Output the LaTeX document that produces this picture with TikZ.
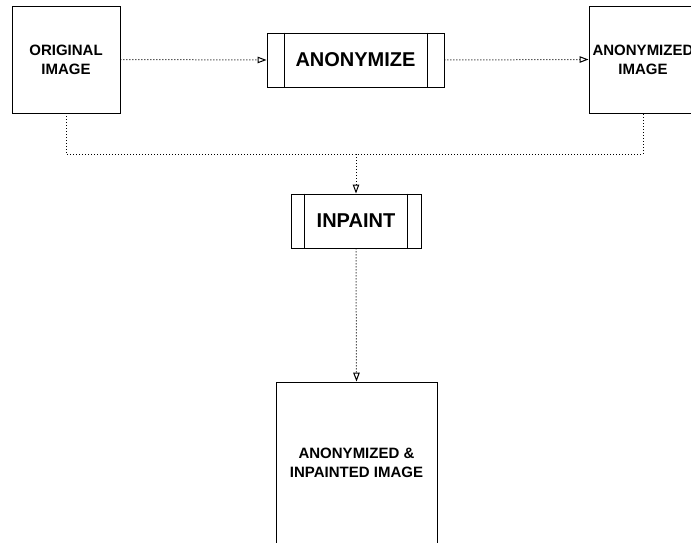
\documentclass[tikz,border=0pt]{standalone}
\usepackage{fontspec}
\setmainfont{Liberation Sans}
\usetikzlibrary{arrows.meta}
\begin{document}
\begin{tikzpicture}[x=1pt,y=-1pt,>={Triangle[open,length=9pt,width=6.5pt]},font=\bfseries]
\tikzset{hop/.style={draw,line width=0.9pt,align=center,inner sep=0pt,font=\fontsize{15}{19}\selectfont\bfseries},
	xuly/.style={draw,line width=0.9pt,align=center,inner sep=0pt,font=\fontsize{20}{24}\selectfont\bfseries},
	cham/.style={line width=1pt,dash pattern=on 1pt off 2pt},
	noi/.style={->,cham}}
\useasboundingbox (0,0) rectangle (691,543);
\clip (0,0) rectangle (691,543);

% Các khối
\path (66,59.5) node[hop,minimum width=108pt,minimum height=107pt] (goc) {ORIGINAL\\IMAGE}
(355.5,60) node[xuly,minimum width=177pt,minimum height=54pt] (andanh) {ANONYMIZE}
(643,59.5) node[hop,minimum width=108pt,minimum height=107pt] (anh1) {ANONYMIZED\\IMAGE}
(356,221) node[xuly,minimum width=130pt,minimum height=54pt] (vanh) {INPAINT}
(356.5,463) node[hop,minimum width=161pt,minimum height=162pt] (anh2) {ANONYMIZED \&\\INPAINTED IMAGE};
\coordinate (nhap) at (356,154);

% Vạch trong khối xử lý
\draw[line width=0.9pt] ([xshift=18pt]andanh.north west) -- ([xshift=18pt]andanh.south west)
	([xshift=-17pt]andanh.north east) -- ([xshift=-17pt]andanh.south east);
\draw[line width=0.9pt] ([xshift=14pt]vanh.north west) -- ([xshift=14pt]vanh.south west)
	([xshift=-14pt]vanh.north east) -- ([xshift=-14pt]vanh.south east);

% Mũi tên
\draw[noi] (goc.east) -- (andanh.west);
\draw[noi] (andanh.east) -- (anh1.west);
\draw[cham] (goc.south) |- (nhap) -| (anh1.south);
\draw[noi] (nhap) -- (vanh.north);
\draw[noi] (vanh.south) -- (anh2.north);
\end{tikzpicture}
\end{document}
